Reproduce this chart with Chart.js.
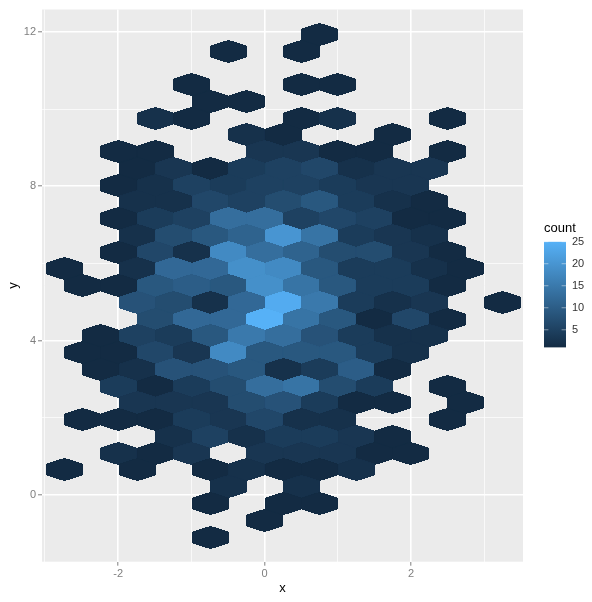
<!DOCTYPE html>
<html>
<head>
<meta charset="utf-8">
<script src="https://cdn.jsdelivr.net/npm/chart.js@4"></script>
<style>
html, body { margin: 0; padding: 0; background: #fff; }
#wrap { position: relative; width: 592px; height: 602px; }
#hexChart { position: absolute; left: 0; top: 0; }
#barChart { position: absolute; left: 530px; top: 220px; }
#barTitle { position: absolute; left: 544px; top: 220px; font: 13px "Liberation Sans", sans-serif; color: #000; }
</style>
</head>
<body>
<div id="wrap">
<canvas id="hexChart" width="592" height="602"></canvas>
<canvas id="barChart" width="62" height="140"></canvas>
<div id="barTitle">count</div>
</div>
<script>
// column centres of the hex grid, rows alternate between these two
var evenCols = [-2.736, -2.238, -1.739, -1.240, -0.742, -0.243, 0.255, 0.754, 1.253, 1.751, 2.250, 2.748, 3.247];
var oddCols = [-2.490, -1.992, -1.493, -0.995, -0.496, 0.003, 0.501, 1.000, 1.499, 1.997, 2.496];

// row centres, top row first
var rowY = [11.937, 11.503, 11.069, 10.634, 10.2, 9.766, 9.332, 8.898, 8.464, 8.029, 7.595, 7.161, 6.727, 6.293, 5.858, 5.424,
    4.990, 4.556, 4.122, 3.688, 3.253, 2.819, 2.385, 1.951, 1.517, 1.082, 0.648, 0.214, -0.22, -0.654, -1.09];

// counts per row (0 = no hexagon), rows start on evenCols and then alternate
var counts = [
    [0, 0, 0, 0, 0, 0, 0, 1, 0, 0, 0, 0, 0],
    [0, 0, 0, 0, 1, 0, 1, 0, 0, 0, 0],
    [0, 0, 0, 0, 0, 0, 0, 0, 0, 0, 0, 0, 0],
    [0, 0, 0, 1, 0, 0, 1, 1, 0, 0, 0],
    [0, 0, 0, 0, 1, 1, 0, 0, 0, 0, 0, 0, 0],
    [0, 0, 2, 1, 0, 0, 1, 2, 0, 0, 1],
    [0, 0, 0, 0, 0, 2, 1, 0, 0, 1, 0, 0, 0],
    [0, 1, 1, 0, 0, 3, 3, 1, 1, 0, 1],
    [0, 0, 1, 3, 1, 4, 5, 6, 2, 3, 3, 0, 0],
    [0, 1, 2, 5, 4, 5, 5, 4, 3, 3, 0],
    [0, 0, 2, 2, 6, 5, 7, 9, 4, 2, 1, 0, 0],
    [0, 1, 4, 5, 13, 13, 5, 6, 5, 1, 1],
    [0, 0, 2, 7, 9, 11, 20, 14, 4, 3, 2, 0, 0],
    [0, 1, 6, 2, 18, 13, 11, 7, 7, 3, 1],
    [1, 0, 2, 12, 12, 19, 18, 9, 4, 4, 2, 1, 0],
    [1, 1, 9, 10, 9, 19, 14, 9, 4, 4, 1],
    [0, 0, 8, 7, 2, 12, 24, 15, 4, 2, 3, 0, 1],
    [0, 0, 7, 12, 12, 25, 14, 9, 1, 6, 1],
    [0, 1, 5, 4, 9, 15, 13, 8, 4, 2, 2, 0, 0],
    [1, 1, 6, 3, 18, 9, 9, 9, 4, 2, 0],
    [0, 1, 2, 8, 8, 9, 2, 4, 10, 1, 0, 0, 0],
    [0, 4, 1, 4, 7, 13, 14, 7, 4, 0, 1],
    [0, 0, 3, 3, 3, 7, 8, 4, 1, 1, 0, 1, 0],
    [1, 1, 1, 4, 3, 6, 2, 2, 0, 0, 1],
    [0, 0, 0, 2, 5, 2, 4, 4, 3, 1, 0, 0, 0],
    [0, 2, 1, 3, 0, 3, 3, 3, 1, 1, 0],
    [1, 0, 1, 0, 1, 2, 1, 1, 2, 0, 0, 0, 0],
    [0, 0, 0, 0, 2, 0, 2, 0, 0, 0, 0],
    [0, 0, 0, 0, 1, 0, 1, 1, 0, 0, 0, 0, 0],
    [0, 0, 0, 0, 0, 1, 0, 0, 0, 0, 0],
    [0, 0, 0, 0, 1, 0, 0, 0, 0, 0, 0, 0, 0]
];

var xTicks = [-3, -2, -1, 0, 1, 2, 3];
var xLabels = ['', '-2', '', '0', '', '2', ''];
var yTicks = [0, 2, 4, 6, 8, 10, 12];
var yLabels = ['0', '', '4', '', '8', '', '12'];
var countTicks = [5, 10, 15, 20, 25];

var lowColor = [19, 43, 67];
var highColor = [86, 177, 247];

function countColor(n) {
    var t = (n - 1) / 24;
    var c = [0, 1, 2].map(function(i) {
        return Math.round(lowColor[i] + (highColor[i] - lowColor[i]) * t);
    });
    return 'rgb(' + c.join(',') + ')';
}

var points = [];
counts.forEach(function(row, r) {
    var cols = r % 2 === 0 ? evenCols : oddCols;
    row.forEach(function(n, c) {
        if (n > 0) {
            points.push({ x: cols[c], y: rowY[r], count: n });
        }
    });
});

// hexagon sprite per colour, size comes from the grid spacing on the scales
var sprites = {};
function hexSprite(ctx) {
    var p = ctx.raw;
    if (!p || !ctx.chart.chartArea) {
        return 'circle'; // first pass runs before layout, scales have no size yet
    }
    var color = countColor(p.count);
    if (sprites[color]) {
        return sprites[color];
    }
    var sx = ctx.chart.scales.x;
    var sy = ctx.chart.scales.y;
    var w = sx.getPixelForValue(evenCols[1]) - sx.getPixelForValue(evenCols[0]);
    var dy = sy.getPixelForValue(rowY[1]) - sy.getPixelForValue(rowY[0]);
    var cv = document.createElement('canvas');
    cv.width = Math.ceil(w) + 4;
    cv.height = Math.ceil(dy * 4 / 3) + 4;
    var c = cv.getContext('2d');
    c.translate(cv.width / 2, cv.height / 2);
    c.beginPath();
    c.moveTo(0, -dy * 2 / 3);
    c.lineTo(w / 2, -dy / 3);
    c.lineTo(w / 2, dy / 3);
    c.lineTo(0, dy * 2 / 3);
    c.lineTo(-w / 2, dy / 3);
    c.lineTo(-w / 2, -dy / 3);
    c.closePath();
    c.fillStyle = color;
    c.strokeStyle = color;
    c.lineWidth = 0.6; // small overlap with the neighbours
    c.fill();
    c.stroke();
    // hard stepped edges like the reference, no pale rim
    var img = c.getImageData(0, 0, cv.width, cv.height);
    for (var i = 3; i < img.data.length; i += 4) {
        img.data[i] = img.data[i] >= 110 ? 255 : 0;
    }
    c.putImageData(img, 0, 0);
    sprites[color] = cv;
    return cv;
}

var panelBg = {
    id: 'panelBg',
    beforeDraw: function(chart) {
        var a = chart.chartArea;
        chart.ctx.fillStyle = '#EBEBEB';
        chart.ctx.fillRect(a.left, a.top, a.right - a.left, a.bottom - a.top);
    },
    beforeDatasetsDraw: function(chart) {
        chart.ctx.imageSmoothingEnabled = false;
    }
};

function axisOptions(tickList, labelList, title, fitSize, isX) {
    return {
        type: 'linear',
        afterBuildTicks: function(scale) {
            scale.ticks = tickList.map(function(v) { return { value: v }; });
        },
        afterTickToLabelConversion: function(scale) {
            scale.ticks.forEach(function(t, i) { t.label = labelList[i]; });
        },
        afterFit: function(scale) {
            if (isX) { scale.height = fitSize; } else { scale.width = fitSize; }
        },
        border: { display: false },
        grid: {
            color: '#FFFFFF',
            lineWidth: function(ctx) {
                return labelList[ctx.index] !== '' ? 1.6 : 0.7;
            },
            tickLength: 4,
            tickWidth: 1,
            tickColor: function(ctx) {
                return labelList[ctx.index] !== '' ? '#7F7F7F' : 'rgba(0,0,0,0)';
            }
        },
        ticks: {
            autoSkip: false,
            maxRotation: 0,
            padding: 2,
            color: '#7F7F7F',
            font: { family: '"Liberation Sans"', size: 11 }
        },
        title: {
            display: true,
            text: title,
            color: '#000',
            padding: 6,
            font: { family: '"Liberation Sans"', size: 13 }
        }
    };
}

var xAxis = axisOptions(xTicks, xLabels, 'x', 40.3, true);
xAxis.min = -3.04;
xAxis.max = 3.53;
var yAxis = axisOptions(yTicks, yLabels, 'y', 42, false);
yAxis.min = -1.73;
yAxis.max = 12.58;

new Chart(document.getElementById('hexChart'), {
    type: 'scatter',
    data: {
        datasets: [{
            data: points,
            pointStyle: hexSprite,
            pointRadius: 5,
            pointHoverRadius: 5
        }]
    },
    options: {
        responsive: false,
        animation: false,
        events: [],
        layout: { padding: { left: 0, right: 69, top: 9.5, bottom: 0 } },
        plugins: { legend: { display: false }, tooltip: { enabled: false } },
        scales: { x: xAxis, y: yAxis }
    },
    plugins: [panelBg]
});

// colour bar, same limits as the fill scale
var barTicks = {
    id: 'barTicks',
    afterDatasetsDraw: function(chart) {
        var c = chart.ctx;
        var a = chart.chartArea;
        var w = (a.right - a.left) / 5;
        c.save();
        c.strokeStyle = 'rgba(255,255,255,0.75)';
        c.lineWidth = 0.6;
        countTicks.forEach(function(v) {
            var py = chart.scales.y.getPixelForValue(v);
            c.beginPath();
            c.moveTo(a.left, py);
            c.lineTo(a.left + w, py);
            c.moveTo(a.right - w, py);
            c.lineTo(a.right, py);
            c.stroke();
        });
        c.restore();
    }
};

new Chart(document.getElementById('barChart'), {
    type: 'bar',
    data: {
        labels: ['count'],
        datasets: [{
            data: [[1, 25]],
            barPercentage: 1,
            categoryPercentage: 1,
            backgroundColor: function(ctx) {
                var chart = ctx.chart;
                if (!chart.chartArea) { return countColor(1); }
                var g = chart.ctx.createLinearGradient(0, chart.chartArea.bottom, 0, chart.chartArea.top);
                g.addColorStop(0, countColor(1));
                g.addColorStop(1, countColor(25));
                return g;
            }
        }]
    },
    options: {
        responsive: false,
        animation: false,
        events: [],
        layout: { padding: { left: 14, right: 0, top: 21.7, bottom: 10 } },
        plugins: { legend: { display: false }, tooltip: { enabled: false } },
        scales: {
            x: { display: false },
            y: {
                position: 'right',
                min: 1,
                max: 25,
                afterBuildTicks: function(scale) {
                    scale.ticks = countTicks.map(function(v) { return { value: v }; });
                },
                afterFit: function(scale) { scale.width = 26; },
                border: { display: false },
                grid: { display: false, drawTicks: false },
                ticks: {
                    padding: 6,
                    color: '#333',
                    font: { family: '"Liberation Sans"', size: 11 }
                }
            }
        }
    },
    plugins: [barTicks]
});
</script>
</body>
</html>
